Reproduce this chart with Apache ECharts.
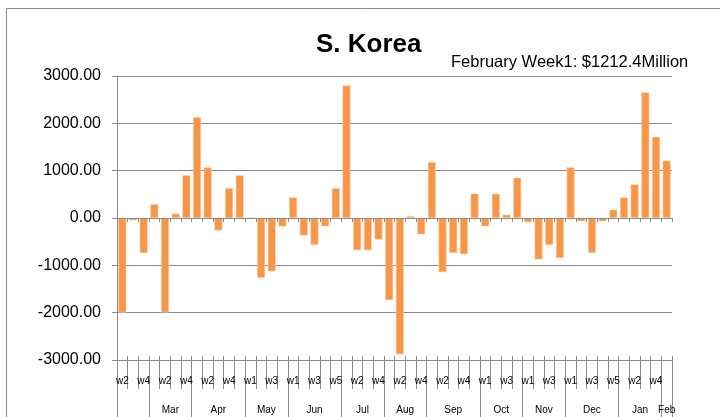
<!DOCTYPE html>
<html>
<head>
<meta charset="utf-8">
<script src="https://cdn.jsdelivr.net/npm/echarts@6/dist/echarts.min.js"></script>
<style>
  html, body { margin: 0; padding: 0; background: #fff; }
  #main { width: 720px; height: 417px; }
</style>
</head>
<body>
<div id="main"></div>
<script>
// week labels, one per bar
var weekLabels = [
  'w2','w3','w4',
  'w1','w2','w3','w4',
  'w1','w2','w3','w4','w5',
  'w1','w2','w3','w4',
  'w1','w2','w3','w4','w5',
  'w1','w2','w3','w4',
  'w1','w2','w3','w4',
  'w1','w2','w3','w4','w5',
  'w1','w2','w3','w4',
  'w1','w2','w3','w4',
  'w1','w2','w3','w4','w5',
  'w1','w2','w3','w4',
  'w1'
];
// month groups and how many weeks each one covers
var monthNames = ['', 'Mar', 'Apr', 'May', 'Jun', 'Jul', 'Aug', 'Sep', 'Oct', 'Nov', 'Dec', 'Jan', 'Feb'];
var monthWeeks = [3, 4, 5, 4, 5, 4, 4, 5, 4, 4, 5, 4, 1];
// weekly values ($ million)
var values = [
  -1995, -50, -740,
  290, -1995, 95, 905,
  2130, 1070, -265, 630, 905,
  5, -1265, -1125, -180,
  435, -370, -570, -175, 630,
  2800, -680, -680, -455,
  -1735, -2880, 40, -345,
  1180, -1145, -740, -765, 515,
  -175, 510, 70, 850,
  -90, -875, -570, -845,
  1070, -70, -740, -70, 175,
  435, 710, 2655, 1715,
  1212.4
];
var yTicks = [-3000, -2000, -1000, 0, 1000, 2000, 3000];

var monthBounds = [0];
var monthCenters = [];
var labelByCenter = {};
monthWeeks.forEach(function(n, i) {
  var start = monthBounds[monthBounds.length - 1];
  monthBounds.push(start + n);
  var c = start + n / 2;
  monthCenters.push(c);
  labelByCenter[c] = monthNames[i];
});

var gray = '#8a8a8a';
var font = 'Liberation Sans';

var chart = echarts.init(document.getElementById('main'));
chart.setOption({
  animation: false,
  textStyle: { fontFamily: font },
  graphic: [{
    type: 'rect',
    shape: { x: 6.5, y: 8.5, width: 730, height: 430 },
    style: { fill: 'none', stroke: gray, lineWidth: 1 },
    silent: true
  }],
  title: [{
    text: 'S. Korea',
    left: 311,
    top: 27,
    textStyle: { fontSize: 26, fontWeight: 'bold', color: '#000', fontFamily: font }
  }, {
    text: 'February Week1: $1212.4Million',
    left: 446,
    top: 49,
    textStyle: { fontSize: 16.5, fontWeight: 'normal', color: '#000', fontFamily: font }
  }],
  grid: { left: 117, right: 48, top: 76, bottom: 57 },
  xAxis: [{
    // week level at the bottom
    type: 'category',
    data: weekLabels,
    position: 'bottom',
    axisLine: { onZero: false, lineStyle: { color: gray } },
    axisTick: { show: true, interval: 0, length: 29, lineStyle: { color: gray } },
    axisLabel: { interval: 1, margin: 16, fontSize: 10, color: '#000', fontFamily: font }
  }, {
    // month level below the weeks
    type: 'value',
    min: 0,
    max: weekLabels.length,
    position: 'bottom',
    splitLine: { show: false },
    axisLine: { show: false, onZero: false },
    axisTick: { show: true, customValues: monthBounds, length: 60, lineStyle: { color: gray } },
    axisLabel: {
      customValues: monthCenters,
      margin: 45,
      fontSize: 10,
      color: '#000',
      fontFamily: font,
      formatter: function(v) { return labelByCenter[v] || ''; }
    }
  }, {
    // zero line with crossing ticks, drawn above the bars
    type: 'category',
    data: weekLabels,
    position: 'bottom',
    z: 3,
    axisLine: { show: true, onZero: true, lineStyle: { color: gray } },
    axisTick: { show: true, interval: 0, length: 4, lineStyle: { color: gray } },
    axisLabel: { show: false }
  }, {
    type: 'category',
    data: weekLabels,
    position: 'bottom',
    z: 3,
    axisLine: { show: true, onZero: true, lineStyle: { color: gray } },
    axisTick: { show: true, interval: 0, inside: true, length: 4, lineStyle: { color: gray } },
    axisLabel: { show: false }
  }],
  yAxis: {
    type: 'value',
    min: yTicks[0],
    max: yTicks[yTicks.length - 1],
    interval: 1000,
    axisLine: { show: true, lineStyle: { color: gray } },
    axisTick: { show: true, length: 5, lineStyle: { color: gray } },
    splitLine: { lineStyle: { color: gray } },
    axisLabel: {
      margin: 16,
      fontSize: 16,
      color: '#000',
      fontFamily: font,
      formatter: function(v) { return v.toFixed(2); }
    }
  },
  series: [{
    type: 'bar',
    xAxisIndex: 0,
    data: values,
    barWidth: 8,
    itemStyle: { color: '#f79646', borderColor: '#fbd2ae', borderWidth: 0.6 }
  }]
});
</script>
</body>
</html>
